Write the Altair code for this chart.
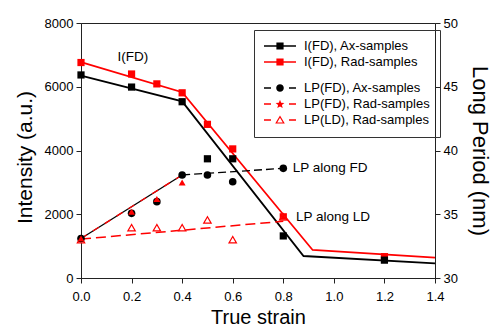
import math
import altair as alt
import pandas as pd

# ---------------- data ----------------
strain_i_ax = [0.0, 0.2, 0.4, 0.5, 0.6, 0.8, 1.2]
intensity_ax = [6370, 5990, 5530, 3740, 3740, 1320, 560]
strain_i_rad = [0.0, 0.2, 0.3, 0.4, 0.5, 0.6, 0.8, 1.2]
intensity_rad = [6760, 6400, 6090, 5810, 4820, 4050, 1920, 670]

fit_ax_strain = [0.0, 0.4, 0.88, 1.4]
fit_ax_intensity = [6350, 5540, 690, 460]
fit_rad_strain = [0.0, 0.4, 0.916, 1.4]
fit_rad_intensity = [6770, 5830, 880, 640]

strain_lp_fd_ax = [0.0, 0.2, 0.3, 0.4, 0.5, 0.6, 0.8]
lp_fd_ax = [33.1, 35.07, 35.99, 38.08, 38.08, 37.55, 38.6]
strain_lp_fd_rad = [0.0, 0.2, 0.3, 0.4, 0.8]
lp_fd_rad = [33.1, 35.2, 36.2, 37.5, 34.8]
strain_lp_ld_rad = [0.0, 0.2, 0.3, 0.4, 0.5, 0.6, 0.8]
lp_ld_rad = [33.0, 33.95, 33.95, 33.95, 34.55, 33.0, 34.8]

lp_fd_ax_fit_strain = [0.0, 0.4, 0.8]
lp_fd_ax_fit = [33.1, 38.08, 38.6]
lp_fd_rad_fit_strain = [0.0, 0.4]
lp_fd_rad_fit = [33.1, 38.08]
lp_ld_fit_strain = [0.0, 0.8]
lp_ld_fit = [33.05, 34.45]

legend_i_labels = ["I(FD), Ax-samples", "I(FD), Rad-samples"]
legend_lp_labels = ["LP(FD), Ax-samples", "LP(FD), Rad-samples", "LP(LD), Rad-samples"]

note_i_text = ["I(FD)"]
note_i_x = [0.205]
note_i_y = [6930]
note_lp_text = ["LP along FD", "LP along LD"]
note_lp_x = [0.837, 0.850]
note_lp_y = [38.6, 34.76]

x_ticks = [0.0, 0.2, 0.4, 0.6, 0.8, 1.0, 1.2, 1.4]
i_ticks = [0, 2000, 4000, 6000, 8000]
lp_ticks = [30, 35, 40, 45, 50]

# ---------------- style ----------------
FONT = "Liberation Sans"
RED = "#ff0000"
BLACK = "#000000"

xscale = alt.Scale(domain=[0, 1.4], nice=False, zero=False)
xaxis = alt.Axis(title="True strain", values=x_ticks, format=".1f", titlePadding=4,
                 labelPadding=7, labelFlush=False, labelOverlap=False)
iscale = alt.Scale(domain=[0, 8000], nice=False)
iaxis = alt.Axis(title="Intensity (a.u.)", orient="left", values=i_ticks, format="d",
                 titleFontSize=21, titlePadding=9, titleY=134, labelFlush=False)
lpscale = alt.Scale(domain=[30, 50], nice=False, zero=False)
lpaxis = alt.Axis(title="Long Period (nm)", orient="right", values=lp_ticks, format="d",
                  titleFontSize=22, titlePadding=10, labelFlush=False)


def df(xs, ys):
    return pd.DataFrame({"x": xs, "y": ys})


def X():
    return alt.X("x:Q", scale=xscale, axis=xaxis)


def YI():
    return alt.Y("y:Q", scale=iscale, axis=iaxis)


def YL():
    return alt.Y("y:Q", scale=lpscale, axis=lpaxis)


# ---------------- intensity layer ----------------
line_i_ax = alt.Chart(df(fit_ax_strain, fit_ax_intensity)).mark_line(color=BLACK, strokeWidth=1.8).encode(x=X(), y=YI())
line_i_rad = alt.Chart(df(fit_rad_strain, fit_rad_intensity)).mark_line(color=RED, strokeWidth=1.8).encode(x=X(), y=YI())
pts_i_ax = alt.Chart(df(strain_i_ax, intensity_ax)).mark_square(color=BLACK, size=52, opacity=1).encode(x=X(), y=YI())
pts_i_rad = alt.Chart(df(strain_i_rad, intensity_rad)).mark_square(color=RED, size=52, opacity=1).encode(x=X(), y=YI())
txt_i = alt.Chart(pd.DataFrame({"x": note_i_x, "y": note_i_y, "t": note_i_text})).mark_text(
    font=FONT, fontSize=13.5, color=BLACK, align="center", baseline="middle").encode(x=X(), y=YI(), text="t:N")
layer_i = alt.layer(line_i_rad, line_i_ax, pts_i_rad, pts_i_ax, txt_i)

# ---------------- long period layer ----------------
lp_solid = alt.Chart(df(lp_fd_ax_fit_strain[:2], lp_fd_ax_fit[:2])).mark_line(color=BLACK, strokeWidth=1.3).encode(x=X(), y=YL())
lp_dash = alt.Chart(df(lp_fd_ax_fit_strain[1:], lp_fd_ax_fit[1:])).mark_line(color=BLACK, strokeWidth=1.3, strokeDash=[8, 4]).encode(x=X(), y=YL())
lp_rad_dash = alt.Chart(df(lp_fd_rad_fit_strain, lp_fd_rad_fit)).mark_line(color=RED, strokeWidth=1.3, strokeDash=[7, 7]).encode(x=X(), y=YL())
lp_ld_dash = alt.Chart(df(lp_ld_fit_strain, lp_ld_fit)).mark_line(color=RED, strokeWidth=1.5, strokeDash=[10, 5]).encode(x=X(), y=YL())
pts_lp_ax = alt.Chart(df(strain_lp_fd_ax, lp_fd_ax)).mark_circle(color=BLACK, size=58, opacity=1).encode(x=X(), y=YL())
pts_lp_rad = alt.Chart(df(strain_lp_fd_rad, lp_fd_rad)).mark_point(shape="triangle-up", filled=True, color=RED, size=48, opacity=1).encode(x=X(), y=YL())
pts_lp_ld = alt.Chart(df(strain_lp_ld_rad, lp_ld_rad)).mark_point(
    shape="triangle-up", filled=True, fill="white", stroke=RED, strokeWidth=1.2, size=55, opacity=1).encode(x=X(), y=YL())
txt_lp = alt.Chart(pd.DataFrame({"x": note_lp_x, "y": note_lp_y, "t": note_lp_text})).mark_text(
    font=FONT, fontSize=13.5, color=BLACK, align="left", baseline="middle").encode(x=X(), y=YL(), text="t:N")
layer_lp = alt.layer(lp_ld_dash, lp_solid, lp_rad_dash, lp_dash, pts_lp_ld, pts_lp_ax, pts_lp_rad, txt_lp)

# ---------------- legend symbols (custom paths: line + marker) ----------------
U = 7.0  # px per path unit (symbolSize 196 -> sqrt/2 = 7)
L0, L1, MX = -7.0, 25.0, 9.0


def f(v):
    return f"{v / U:.3f}"


def poly(pts):
    s = "M" + "L".join(f"{f(px)},{f(py)}" for px, py in pts)
    return s + "Z"


def rect(x0, x1, h=0.8):
    return poly([(x0, -h), (x1, -h), (x1, h), (x0, h)])


solid_line = rect(L0, L1)
dash_line = rect(L0, 0.0) + rect(18.0, L1)
sq = poly([(MX - 3.6, -3.6), (MX + 3.6, -3.6), (MX + 3.6, 3.6), (MX - 3.6, 3.6)])
r = 3.8
circ = (f"M{f(MX + r)},0A{f(r)},{f(r)} 0 1,1 {f(MX - r)},0"
        f"A{f(r)},{f(r)} 0 1,1 {f(MX + r)},0Z")
star_pts = []
for k in range(10):
    ang = -math.pi / 2 + k * math.pi / 5
    rad = 4.6 if k % 2 == 0 else 2.0
    star_pts.append((MX + rad * math.cos(ang), 0.4 + rad * math.sin(ang)))
star = poly(star_pts)
tri_open = poly([(MX, -4.6), (MX + 4.8, 3.6), (MX - 4.8, 3.6)]) + \
    poly([(MX, -2.2), (MX - 2.8, 2.4), (MX + 2.8, 2.4)])

legend_common = dict(
    symbolSize=196, symbolStrokeWidth=0, symbolOpacity=1, labelOffset=26,
    rowPadding=2, labelFont=FONT, labelFontSize=13, labelColor=BLACK, labelLimit=400,
    orient="none",
)
leg_a = alt.Legend(title=None, legendX=183, legendY=16, padding=0, **legend_common)
leg_b = alt.Legend(title=" ", titleFontSize=30, titlePadding=11, legendX=173, legendY=7,
                   padding=10, strokeColor="#333333", **legend_common)

dummy_i = alt.Chart(pd.DataFrame({"s": legend_i_labels})).mark_point(filled=True, opacity=0).encode(
    color=alt.Color("s:N", sort=None, scale=alt.Scale(domain=legend_i_labels, range=[BLACK, RED]), legend=leg_a),
    shape=alt.Shape("s:N", sort=None, scale=alt.Scale(domain=legend_i_labels, range=[solid_line + sq, solid_line + sq]), legend=leg_a),
)
dummy_lp = alt.Chart(pd.DataFrame({"s": legend_lp_labels})).mark_point(filled=True, opacity=0).encode(
    color=alt.Color("s:N", sort=None, scale=alt.Scale(domain=legend_lp_labels, range=[BLACK, RED, RED]), legend=leg_b),
    shape=alt.Shape("s:N", sort=None, scale=alt.Scale(domain=legend_lp_labels,
                    range=[dash_line + circ, dash_line + star, dash_line + tri_open]), legend=leg_b),
)

chart = alt.layer(layer_i, layer_lp, dummy_lp, dummy_i).resolve_scale(
    y="independent", color="independent", shape="independent"
).properties(
    width=354, height=255, autosize="none",
    padding={"left": 81, "top": 23, "right": 58, "bottom": 51},
    background="white",
).configure_view(
    stroke="#222222", strokeWidth=1
).configure_axis(
    grid=False, labelFont=FONT, labelFontSize=13, labelColor=BLACK,
    titleFont=FONT, titleFontSize=20, titleFontWeight="normal", titleColor=BLACK,
    domainColor="#222222", tickColor="#222222", tickSize=5, labelPadding=3,
).configure_legend(strokeWidth=1)

chart.save("out.html", embed_options={"renderer": "svg", "actions": False})
